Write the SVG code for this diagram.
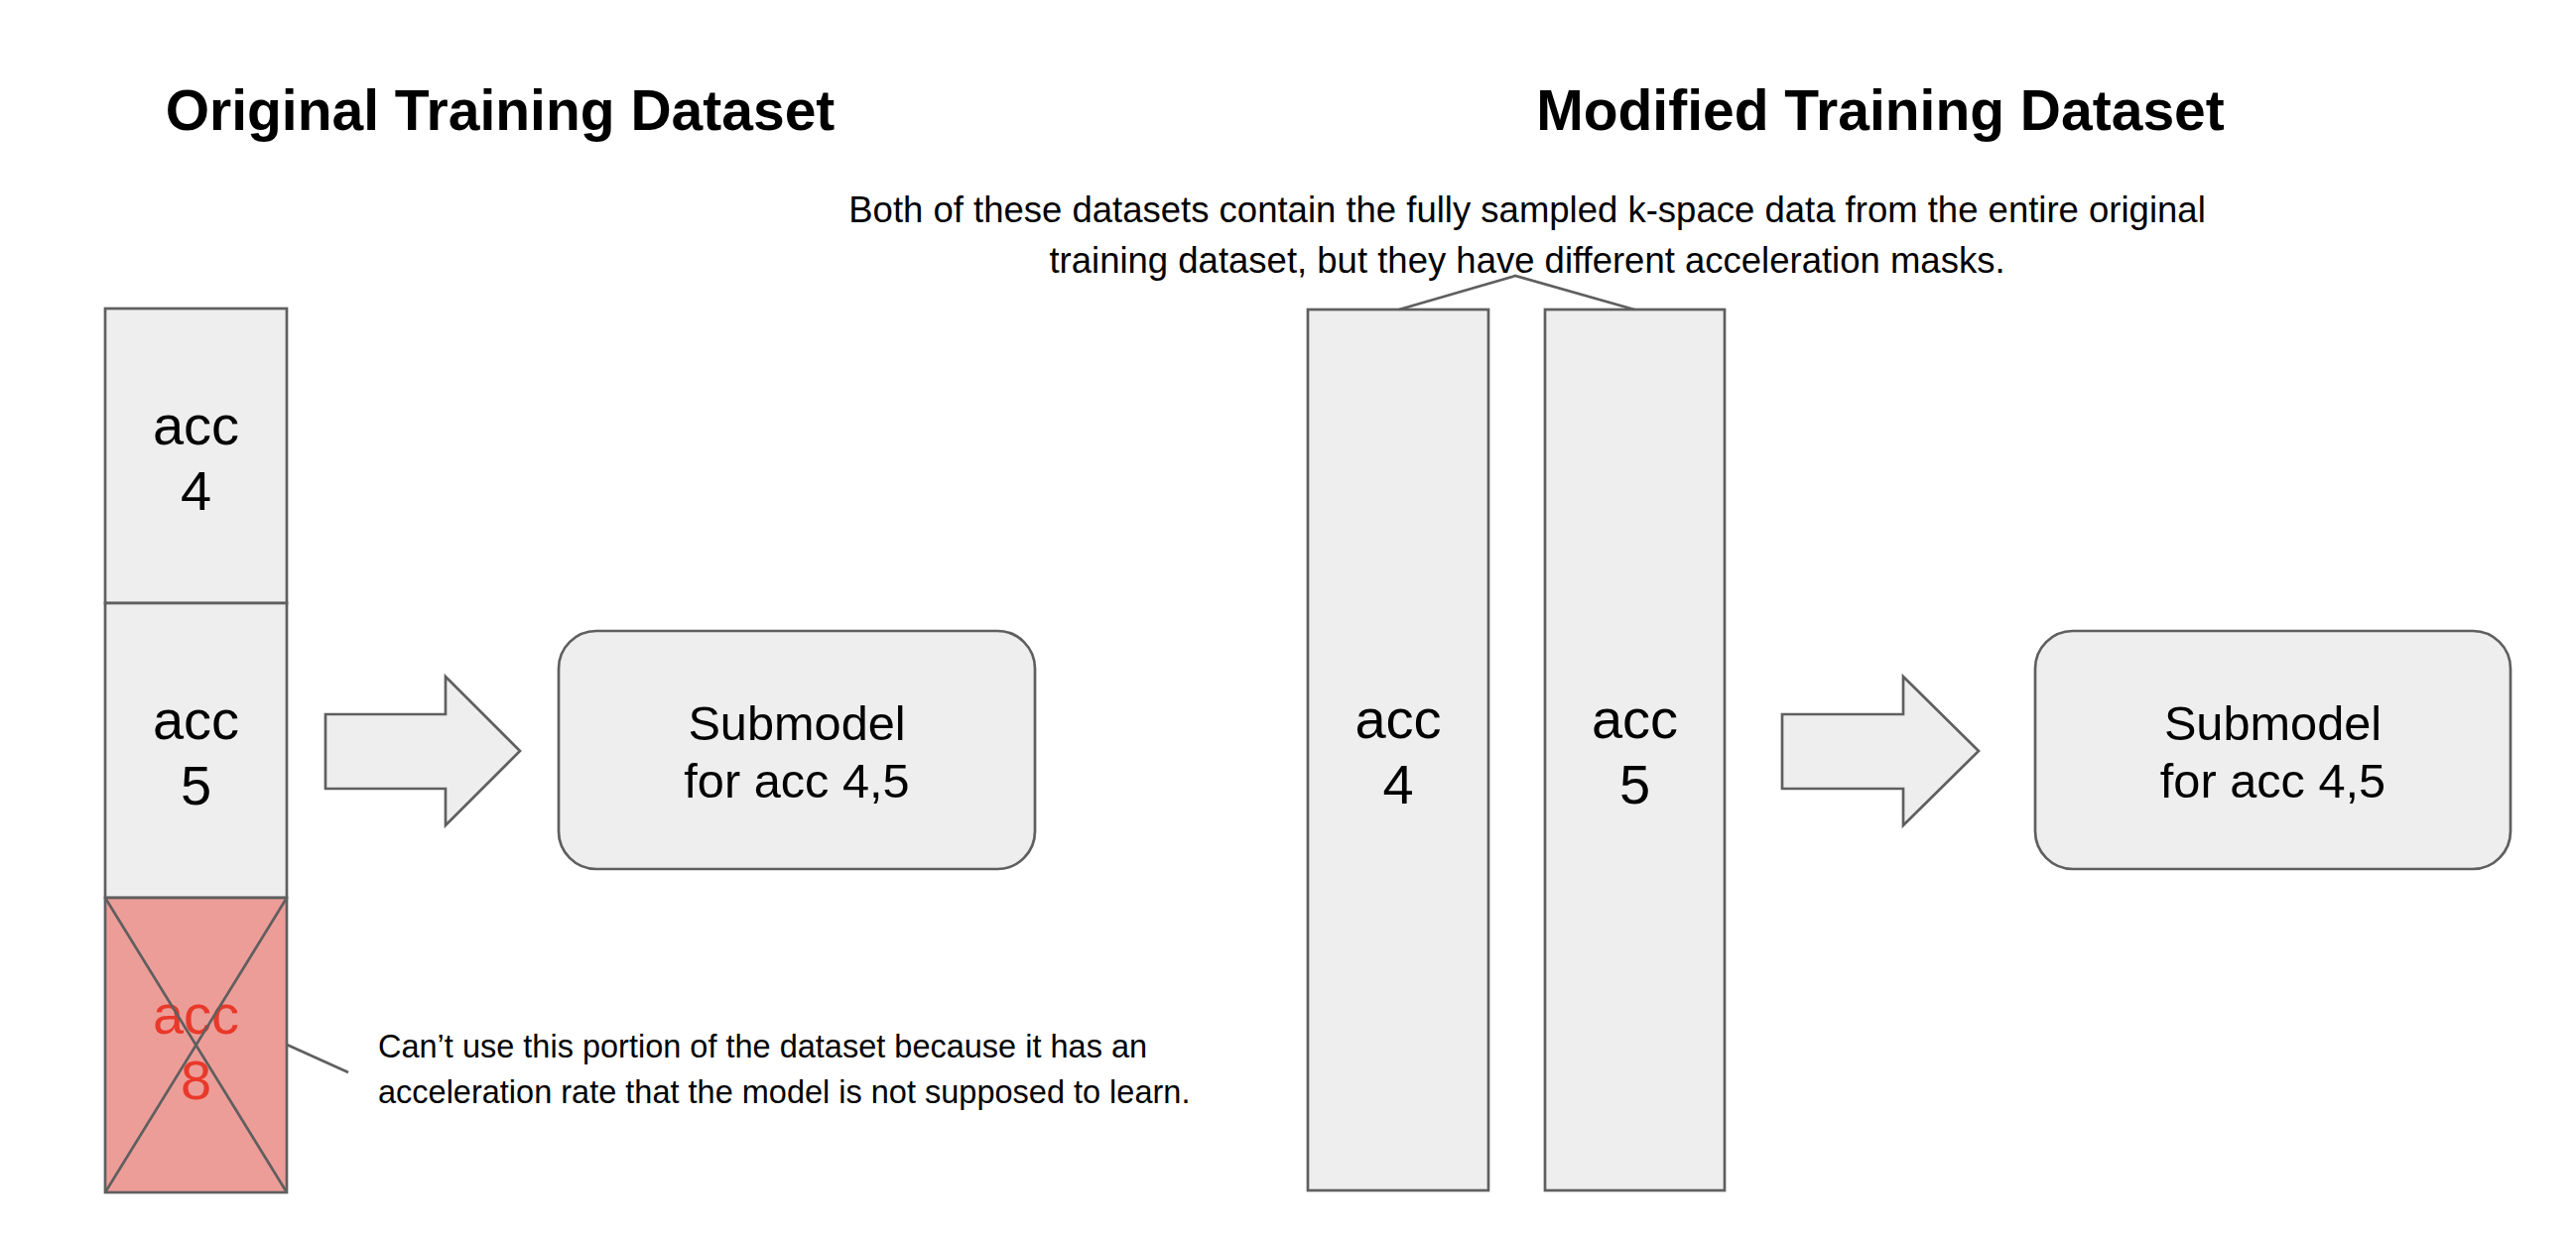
<svg xmlns="http://www.w3.org/2000/svg" width="2596" height="1254" viewBox="0 0 2596 1254">
<style>
.box{fill:#eeeeee;stroke:#5f5f5f;stroke-width:2.7}
.bad{fill:#ed9d98;stroke:#5f5f5f;stroke-width:2.7}
.ln{fill:none;stroke:#5f5f5f;stroke-width:2.7}
.title{font-family:"Liberation Sans",Arial,sans-serif;font-weight:bold;font-size:57px;fill:#000;text-anchor:middle}
.big{font-family:"Liberation Sans",Arial,sans-serif;font-size:56px;fill:#000;text-anchor:middle}
.red{fill:#e8392a}
.sub{font-family:"Liberation Sans",Arial,sans-serif;font-size:48.7px;fill:#000;text-anchor:middle}
.cap{font-family:"Liberation Sans",Arial,sans-serif;font-size:36.5px;fill:#000;text-anchor:middle}
.note{font-family:"Liberation Sans",Arial,sans-serif;font-size:32.5px;fill:#000}
</style>
<rect width="2596" height="1254" fill="#fff"/>
<g id="title-original"><text class="title" x="504" y="131">Original Training Dataset</text></g>
<g id="title-modified"><text class="title" x="1895" y="131">Modified Training Dataset</text></g>
<g id="caption"><text class="cap" x="1539" y="224">Both of these datasets contain the fully sampled k-space data from the entire original</text><text class="cap" x="1539" y="275">training dataset, but they have different acceleration masks.</text></g>
<g id="orig-acc4"><rect class="box" x="106" y="311" width="183" height="297"/><text class="big" x="197.5" y="448">acc</text><text class="big" x="197.5" y="514">4</text></g>
<g id="orig-acc5"><rect class="box" x="106" y="608" width="183" height="297"/><text class="big" x="197.5" y="745">acc</text><text class="big" x="197.5" y="811">5</text></g>
<g id="orig-acc8"><rect class="bad" x="106" y="905" width="183" height="297"/><text class="big red" x="197.5" y="1042">acc</text><text class="big red" x="197.5" y="1108">8</text><path class="ln" d="M106 905L289 1202M289 905L106 1202"/></g>
<g id="arrow-left"><path class="box" d="M328 720H449V682L524 757L449 832V795H328Z"/></g>
<g id="submodel-left"><rect class="box" x="563" y="636" width="480" height="240" rx="38" ry="38"/><text class="sub" x="803" y="746">Submodel</text><text class="sub" x="803" y="804">for acc 4,5</text></g>
<g id="note"><text class="note" x="381" y="1066">Can’t use this portion of the dataset because it has an</text><text class="note" x="381" y="1112">acceleration rate that the model is not supposed to learn.</text></g>
<g id="mod-acc4"><rect class="box" x="1318" y="312" width="182" height="888"/><text class="big" x="1409" y="744">acc</text><text class="big" x="1409" y="810">4</text></g>
<g id="mod-acc5"><rect class="box" x="1557" y="312" width="181" height="888"/><text class="big" x="1647.5" y="744">acc</text><text class="big" x="1647.5" y="810">5</text></g>
<g id="arrow-right"><path class="box" d="M1796 720H1918V682L1994 757L1918 832V795H1796Z"/></g>
<g id="submodel-right"><rect class="box" x="2051" y="636" width="479" height="240" rx="38" ry="38"/><text class="sub" x="2290.5" y="746">Submodel</text><text class="sub" x="2290.5" y="804">for acc 4,5</text></g>
<g id="connectors">
<polyline class="ln" points="1410,312 1527,278 1647,312"/>
<line class="ln" x1="289" y1="1053" x2="351" y2="1081"/>
</g>
</svg>
